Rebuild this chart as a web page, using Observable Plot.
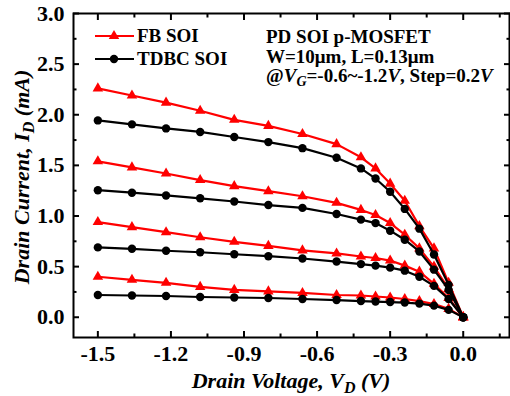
<!DOCTYPE html>
<html><head><meta charset="utf-8">
<script src="https://cdn.jsdelivr.net/npm/d3@7"></script>
<script src="https://cdn.jsdelivr.net/npm/@observablehq/plot@0.6"></script>
<style>body{margin:0;background:#fff}#chart{width:510px;height:396px}</style>
</head><body><div id="chart"></div>
<script>
// Drain voltage points (V)
const vd = [-1.5,-1.36,-1.22,-1.08,-0.94,-0.80,-0.66,-0.52,-0.42,-0.36,-0.30,-0.24,-0.18,-0.12,-0.06,0];
// FB SOI drain current (mA) for VG = -1.2, -1.0, -0.8, -0.6
const fb_m12 = [2.26,2.19,2.12,2.04,1.95,1.89,1.81,1.71,1.58,1.47,1.32,1.15,0.90,0.68,0.34,0];
const fb_m10 = [1.54,1.48,1.42,1.355,1.295,1.245,1.195,1.13,1.06,1.01,0.93,0.815,0.68,0.50,0.28,0];
const fb_m08 = [0.94,0.89,0.84,0.79,0.745,0.705,0.66,0.63,0.60,0.585,0.56,0.51,0.45,0.33,0.19,0];
const fb_m06 = [0.40,0.37,0.34,0.30,0.27,0.255,0.24,0.22,0.215,0.205,0.195,0.18,0.16,0.13,0.083,0];
// TDBC SOI drain current (mA)
const tdbc_m12 = [1.944,1.905,1.865,1.83,1.78,1.73,1.67,1.575,1.47,1.37,1.24,1.07,0.875,0.62,0.32,0];
const tdbc_m10 = [1.255,1.23,1.203,1.175,1.143,1.108,1.08,1.02,0.964,0.93,0.855,0.766,0.65,0.47,0.27,0];
const tdbc_m08 = [0.69,0.676,0.657,0.642,0.622,0.603,0.58,0.55,0.525,0.51,0.49,0.46,0.40,0.31,0.18,0];
const tdbc_m06 = [0.22,0.215,0.21,0.20,0.195,0.19,0.18,0.17,0.16,0.155,0.15,0.145,0.135,0.115,0.073,0];

const xMajor = [-1.5,-1.2,-0.9,-0.6,-0.3,0.0];
const xMinor = [-1.35,-1.05,-0.75,-0.45,-0.15,0.15];
const yMajor = [0,0.5,1.0,1.5,2.0,2.5,3.0];
const yMinor = [0.25,0.75,1.25,1.75,2.25,2.75];

function rows(type, vg, vals){ return vals.map((v,i)=>({vd:vd[i], id:v, type, key:type+vg})); }
const fbRows = [...rows("FB",-1.2,fb_m12),...rows("FB",-1.0,fb_m10),...rows("FB",-0.8,fb_m08),...rows("FB",-0.6,fb_m06)];
const tdRows = [...rows("TDBC",-1.2,tdbc_m12),...rows("TDBC",-1.0,tdbc_m10),...rows("TDBC",-0.8,tdbc_m08),...rows("TDBC",-0.6,tdbc_m06)];

const RED = "#ff0000";
const fmt = d => d.toFixed(1);
const font = "'Liberation Serif','Times New Roman',serif";

const plot = Plot.plot({
  width: 510, height: 396,
  marginLeft: 73, marginRight: 1, marginTop: 13, marginBottom: 59,
  x: {domain: [-1.6, 0.19]},
  y: {domain: [-0.2, 3.0]},
  style: {fontFamily: font, fontWeight: "bold", fontSize: "22px", background: "white", color: "black"},
  marks: [
    Plot.line(fbRows, {x: "vd", y: "id", z: "key", stroke: RED, strokeWidth: 2.2}),
    Plot.dot(fbRows, {x: "vd", y: "id", symbol: "triangle", fill: RED, r: 3.9}),
    Plot.line(tdRows, {x: "vd", y: "id", z: "key", stroke: "black", strokeWidth: 2.2}),
    Plot.dot(tdRows, {x: "vd", y: "id", fill: "black", r: 4.2}),
    // ticks inward, mirrored on all sides
    Plot.axisX({anchor: "bottom", ticks: xMajor, tickSize: -6, strokeWidth: 2, tickFormat: () => "", label: null}),
    Plot.axisX({anchor: "bottom", ticks: xMinor, tickSize: -3.5, strokeWidth: 2, tickFormat: () => "", label: null}),
    Plot.axisX({anchor: "top", ticks: xMajor, tickSize: -6, strokeWidth: 2, tickFormat: () => "", label: null}),
    Plot.axisX({anchor: "top", ticks: xMinor, tickSize: -3.5, strokeWidth: 2, tickFormat: () => "", label: null}),
    Plot.axisY({anchor: "left", ticks: yMajor, tickSize: -6, strokeWidth: 2, tickFormat: () => "", label: null}),
    Plot.axisY({anchor: "left", ticks: yMinor, tickSize: -3.5, strokeWidth: 2, tickFormat: () => "", label: null}),
    Plot.axisY({anchor: "right", ticks: yMajor, tickSize: -6, strokeWidth: 2, tickFormat: () => "", label: null}),
    Plot.axisY({anchor: "right", ticks: yMinor, tickSize: -3.5, strokeWidth: 2, tickFormat: () => "", label: null}),
    // tick labels
    Plot.axisX({anchor: "bottom", ticks: xMajor, tickSize: 0, tickPadding: 8, tickFormat: fmt, label: null, fontSize: 22}),
    Plot.axisY({anchor: "left", ticks: yMajor, tickSize: 0, tickPadding: 9, tickFormat: fmt, label: null, fontSize: 22}),
    Plot.frame({stroke: "black", strokeWidth: 2})
  ]
});
document.getElementById("chart").appendChild(plot);

const svg = d3.select(plot);
const g = svg.append("g").attr("font-family", font).attr("font-weight", "bold").attr("fill", "black").attr("text-anchor", "start");

// legend
g.append("line").attr("x1",95).attr("x2",134).attr("y1",36).attr("y2",36).attr("stroke",RED).attr("stroke-width",2.2);
g.append("path").attr("d", d3.symbol(d3.symbolTriangle, Math.PI*3.9*3.9)()).attr("transform","translate(114,36)").attr("fill",RED);
g.append("text").attr("x",137).attr("y",42).attr("font-size",19).text("FB SOI");
g.append("line").attr("x1",95).attr("x2",134).attr("y1",59).attr("y2",59).attr("stroke","black").attr("stroke-width",2.2);
g.append("circle").attr("cx",114).attr("cy",59).attr("r",4.2).attr("fill","black");
g.append("text").attr("x",137).attr("y",65).attr("font-size",19).text("TDBC SOI");

// annotation
g.append("text").attr("x",266).attr("y",43).attr("font-size",19).text("PD SOI p-MOSFET");
g.append("text").attr("x",266).attr("y",63).attr("font-size",19).text("W=10\u03bcm, L=0.13\u03bcm");
const t3 = g.append("text").attr("x",266).attr("y",82).attr("font-size",19);
t3.append("tspan").text("@");
t3.append("tspan").attr("font-style","italic").text("V");
t3.append("tspan").attr("font-style","italic").attr("font-size",14).attr("dy",4).text("G");
t3.append("tspan").attr("dy",-4).text("=-0.6~-1.2");
t3.append("tspan").attr("font-style","italic").text("V");
t3.append("tspan").text(", Step=0.2");
t3.append("tspan").attr("font-style","italic").text("V");

// axis labels
const xl = g.append("text").attr("x",291).attr("y",388).attr("text-anchor","middle").attr("font-size",22).attr("font-style","italic");
xl.append("tspan").text("Drain Voltage, V");
xl.append("tspan").attr("font-size",16).attr("dy",5).text("D");
xl.append("tspan").attr("dy",-5).text(" (V)");
const yl = g.append("text").attr("transform","translate(29,177) rotate(-90)").attr("text-anchor","middle").attr("font-size",22).attr("font-style","italic");
yl.append("tspan").text("Drain Current, I");
yl.append("tspan").attr("font-size",16).attr("dy",5).text("D");
yl.append("tspan").attr("dy",-5).text(" (mA)");
</script></body></html>
